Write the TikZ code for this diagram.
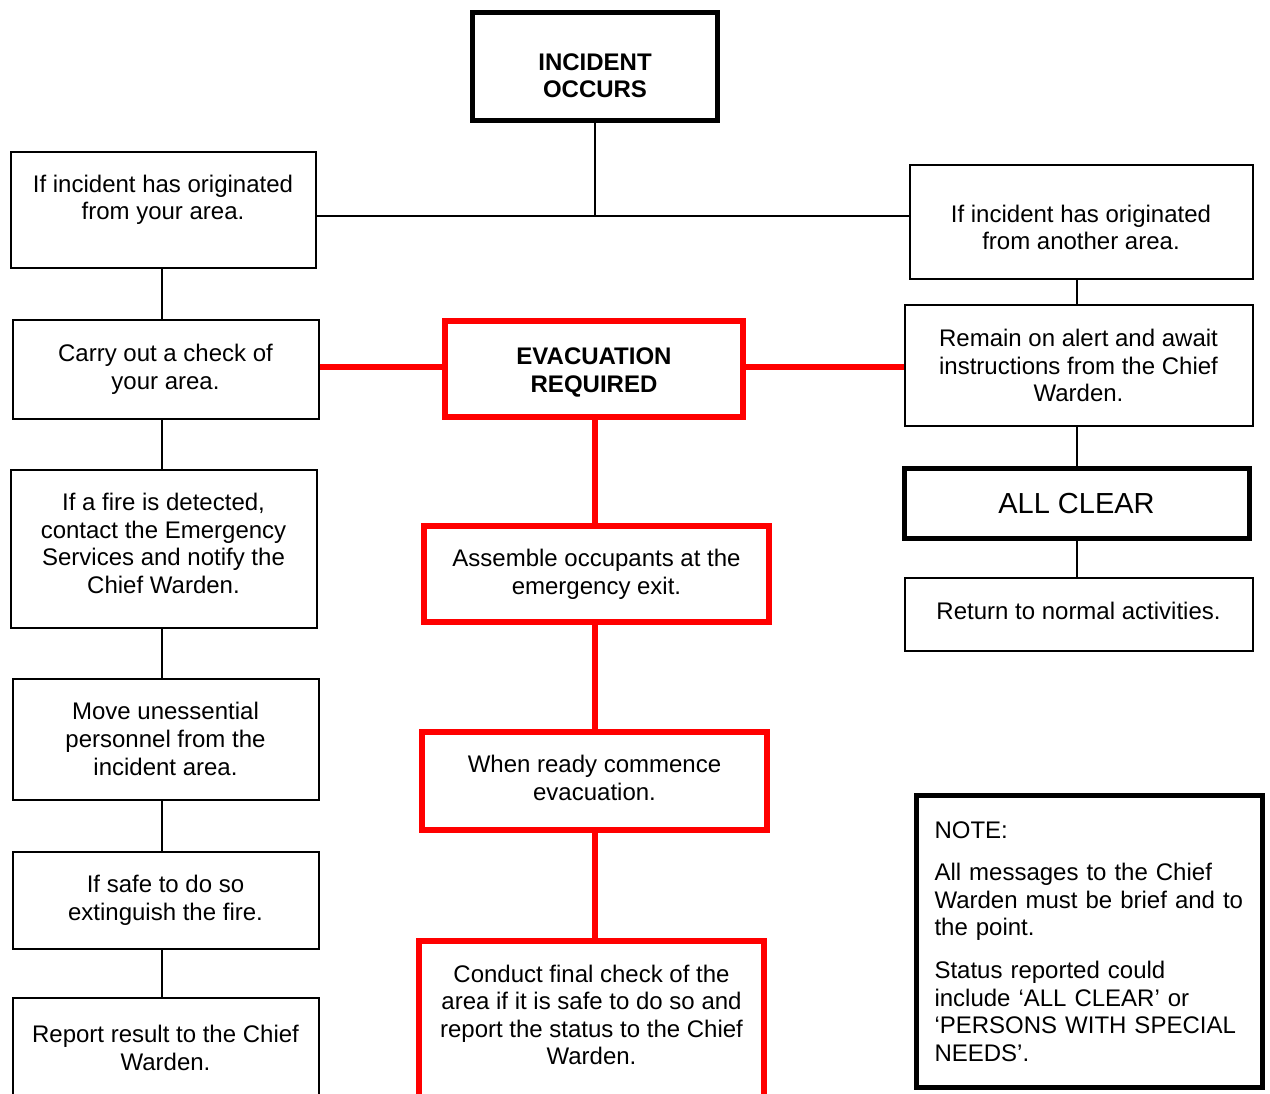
\documentclass[tikz,border=0pt]{standalone}
\usepackage{fontspec}
\setmainfont{Liberation Sans}
% text moved up (+) or down (-) inside its box
\newcommand{\lifted}[2]{\raisebox{#1}[\height][\depth]{\begin{tabular}{@{}c@{}}#2\end{tabular}}}
\begin{document}
\begin{tikzpicture}[x=1pt,y=-1pt,
    font=\fontsize{24}{27.6}\selectfont,
    box/.style={draw, line width=2pt, align=center, inner sep=0pt},
    heavybox/.style={draw, line width=5pt, align=center, inner sep=0pt},
    redbox/.style={draw=red, line width=6pt, align=center, inner sep=0pt},
    blkline/.style={line width=2pt},
    redline/.style={red, line width=6pt}]
  \clip (0,0) rectangle (1270,1094);

  % top
  \node[heavybox, minimum width=245pt, minimum height=108pt] at (595,66.5) (occurs) {\lifted{-12pt}{\bfseries INCIDENT\\\bfseries OCCURS}};
  \coordinate (split) at (595,216);

  % left column
  \node[box, minimum width=305pt, minimum height=116pt] at (163,210.5) (ownarea) {\lifted{10pt}{If incident has originated\\from your area.}};
  \node[box, minimum width=306pt, minimum height=98pt] at (165.5,369.5) (check) {Carry out a check of\\your area.};
  \node[box, minimum width=306pt, minimum height=158pt] at (163.5,548.5) (firefound) {\lifted{2pt}{If a fire is detected,\\contact the Emergency\\Services and notify the\\Chief Warden.}};
  \node[box, minimum width=306pt, minimum height=121pt] at (165.5,739) (moveout) {Move unessential\\personnel from the\\incident area.};
  \node[box, minimum width=306pt, minimum height=97pt] at (165.5,900) (extinguish) {If safe to do so\\extinguish the fire.};
  \node[box, minimum width=306pt, minimum height=100pt] at (165.5,1048) (reportback) {Report result to the Chief\\Warden.};

  % centre column
  \node[redbox, minimum width=298pt, minimum height=96pt] at (594,369) (evac) {\lifted{-4pt}{\bfseries EVACUATION\\\bfseries REQUIRED}};
  \node[redbox, minimum width=345pt, minimum height=96pt] at (596.5,574) (assemble) {Assemble occupants at the\\emergency exit.};
  \node[redbox, minimum width=345pt, minimum height=98pt] at (594.5,781) (commence) {\lifted{0pt}{When ready commence\\evacuation.}};
  \node[redbox, minimum width=345pt, minimum height=162pt] at (591.5,1022) (finalcheck) {\lifted{4pt}{Conduct final check of the\\area if it is safe to do so and\\report the status to the Chief\\Warden.}};

  % right column
  \node[box, minimum width=343pt, minimum height=114pt] at (1081,222.5) (otherarea) {\lifted{-8pt}{If incident has originated\\from another area.}};
  \node[box, minimum width=348pt, minimum height=120pt] at (1078.5,365.5) (standby) {Remain on alert and await\\instructions from the Chief\\Warden.};
  \node[heavybox, minimum width=345pt, minimum height=70pt] at (1076.5,503.5) (allclear) {\fontsize{29}{33}\selectfont ALL CLEAR};
  \node[box, minimum width=348pt, minimum height=73pt] at (1078.5,614) (normal) {\lifted{0pt}{Return to normal activities.}};
  \node[heavybox, minimum width=346pt, minimum height=292pt, text width=310pt, align=left] at (1089.5,941.5) (note) {NOTE:\\[15pt]All messages to the Chief\\Warden must be brief and to\\the point.\\[15pt]Status reported could\\include `ALL CLEAR' or\\`PERSONS WITH SPECIAL\\NEEDS'.};

  % draw edges
  \draw[blkline] (occurs) -- (split);
  \draw[blkline] (ownarea.east |- split) -- (otherarea.west |- split);
  \draw[blkline] (162,0 |- ownarea.south) -- (162,0 |- check.north);
  \draw[blkline] (162,0 |- check.south) -- (162,0 |- firefound.north);
  \draw[blkline] (162,0 |- firefound.south) -- (162,0 |- moveout.north);
  \draw[blkline] (162,0 |- moveout.south) -- (162,0 |- extinguish.north);
  \draw[blkline] (162,0 |- extinguish.south) -- (162,0 |- reportback.north);
  \draw[blkline] (1077,0 |- otherarea.south) -- (1077,0 |- standby.north);
  \draw[blkline] (1077,0 |- standby.south) -- (1077,0 |- allclear.north);
  \draw[blkline] (1077,0 |- allclear.south) -- (1077,0 |- normal.north);
  \draw[redline] (check.east |- 0,367) -- (evac.west |- 0,367);
  \draw[redline] (evac.east |- 0,367) -- (standby.west |- 0,367);
  \draw[redline] (595,0 |- evac.south) -- (595,0 |- assemble.north);
  \draw[redline] (595,0 |- assemble.south) -- (595,0 |- commence.north);
  \draw[redline] (595,0 |- commence.south) -- (595,0 |- finalcheck.north);
\end{tikzpicture}
\end{document}
